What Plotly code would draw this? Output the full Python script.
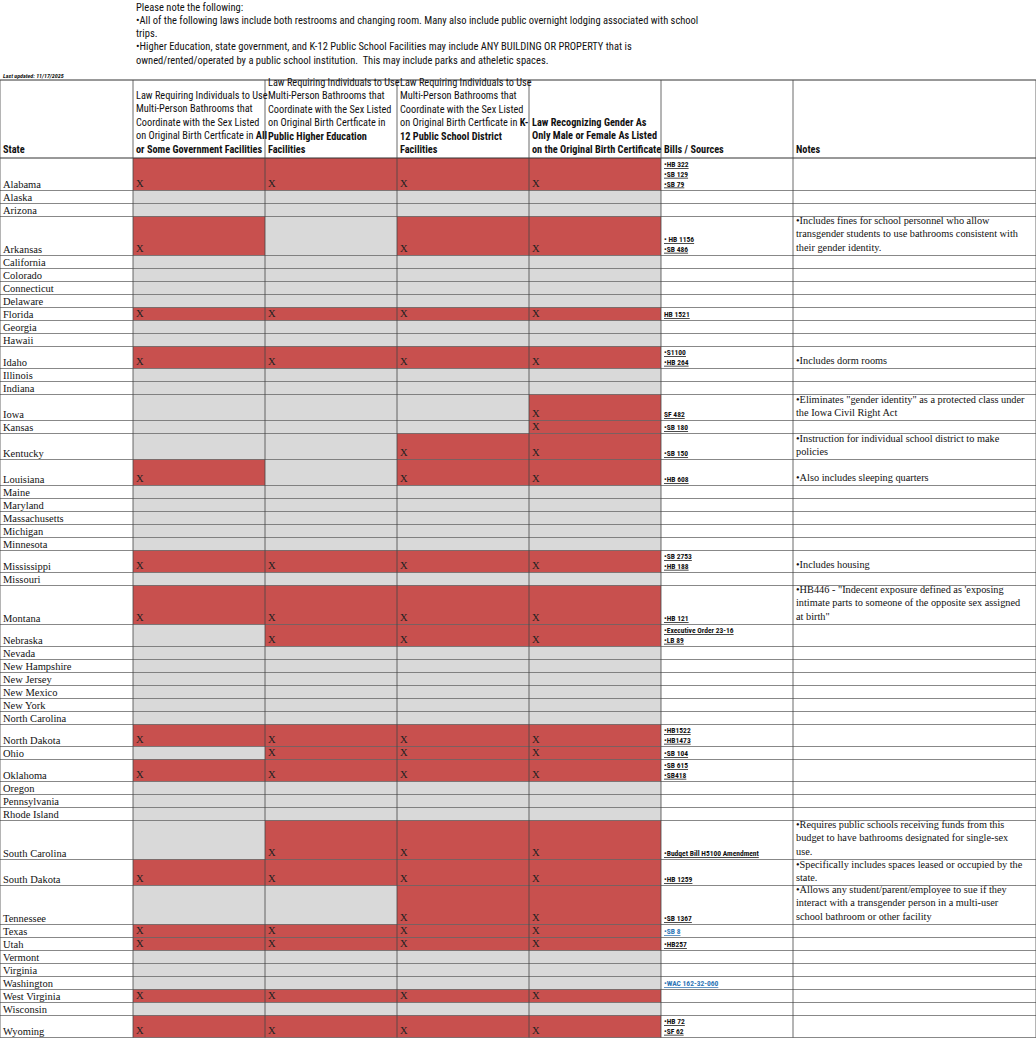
import plotly.graph_objects as go

states = ["Alabama","Alaska","Arizona","Arkansas","California","Colorado","Connecticut","Delaware","Florida","Georgia","Hawaii","Idaho","Illinois","Indiana","Iowa","Kansas","Kentucky","Louisiana","Maine","Maryland","Massachusetts","Michigan","Minnesota","Mississippi","Missouri","Montana","Nebraska","Nevada","New Hampshire","New Jersey","New Mexico","New York","North Carolina","North Dakota","Ohio","Oklahoma","Oregon","Pennsylvania","Rhode Island","South Carolina","South Dakota","Tennessee","Texas","Utah","Vermont","Virginia","Washington","West Virginia","Wisconsin","Wyoming"]
# status per state for the 4 law columns ("X" = law in place)
gov_fac = ["X","","","X","","","","","X","","","X","","","","","","X","","","","","","X","","X","","","","","","","","X","","X","","","","","X","","X","X","","","","X","","X"]
higher_ed = ["X","","","","","","","","X","","","X","","","","","","","","","","","","X","","X","X","","","","","","","X","X","X","","","","X","X","","X","X","","","","X","","X"]
k12 = ["X","","","X","","","","","X","","","X","","","","","X","X","","","","","","X","","X","X","","","","","","","X","X","X","","","","X","X","X","X","X","","","","X","","X"]
gender_def = ["X","","","X","","","","","X","","","X","","","X","X","X","X","","","","","","X","","X","X","","","","","","","X","X","X","","","","X","X","X","X","X","","","","X","","X"]
bills = {
    "Alabama": ["•HB 322","•SB 129","•SB 79"], "Arkansas": ["• HB 1156","•SB 486"], "Florida": ["HB 1521"],
    "Idaho": ["•S1100","•HB 264"], "Iowa": ["SF 482"], "Kansas": ["•SB 180"], "Kentucky": ["•SB 150"],
    "Louisiana": ["•HB 608"], "Mississippi": ["•SB 2753","•HB 188"], "Montana": ["•HB 121"],
    "Nebraska": ["•Executive Order 23-16","•LB 89"], "North Dakota": ["•HB1522","•HB1473"], "Ohio": ["•SB 104"],
    "Oklahoma": ["•SB 615","•SB418"], "South Carolina": ["•Budget Bill H5100 Amendment"], "South Dakota": ["•HB 1259"],
    "Tennessee": ["•SB 1367"], "Texas": ["•SB 8"], "Utah": ["•HB257"], "Washington": ["•WAC 162-32-060"],
    "Wyoming": ["•HB 72","•SF 62"],
}
notes = {
    "Arkansas": ["•Includes fines for school personnel who allow","transgender students to use bathrooms consistent with","their gender identity."],
    "Idaho": ["•Includes dorm rooms"],
    "Iowa": ["•Eliminates \"gender identity\" as a protected class under","the Iowa Civil Right Act"],
    "Kentucky": ["•Instruction for individual school district to make","policies"],
    "Louisiana": ["•Also includes sleeping quarters"],
    "Mississippi": ["•Includes housing"],
    "Montana": ["•HB446 - \"Indecent exposure defined as 'exposing","intimate parts to someone of the opposite sex assigned","at birth\""],
    "South Carolina": ["•Requires public schools receiving funds from this","budget to have bathrooms designated for single-sex","use."],
    "South Dakota": ["•Specifically includes spaces leased or occupied by the","state."],
    "Tennessee": ["•Allows any student/parent/employee to sue if they","interact with a transgender person in a multi-user","school bathroom or other facility"],
}
headers = ["State",
    "Law Requiring Individuals to Use<br>Multi-Person Bathrooms that<br>Coordinate with the Sex Listed<br>on Original Birth Certficate in <b>All</b><br><b>or Some Government Facilities</b>",
    "Law Requiring Individuals to Use<br>Multi-Person Bathrooms that<br>Coordinate with the Sex Listed<br>on Original Birth Certficate in<br><b>Public Higher Education</b><br><b>Facilities</b>",
    "Law Requiring Individuals to Use<br>Multi-Person Bathrooms that<br>Coordinate with the Sex Listed<br>on Original Birth Certficate in <b>K-</b><br><b>12 Public School District</b><br><b>Facilities</b>",
    "<b>Law Recognizing Gender As</b><br><b>Only Male or Female As Listed</b><br><b>on the Original Birth Certificate</b>",
    "<b>Bills / Sources</b>", "<b>Notes</b>"]
tall_rows = {"Louisiana": 2}

RED, GRAY = "#C8504E", "#D9D9D9"
xs = [0, 133, 265, 397, 529, 661, 793, 1036]
W, H = 1036, 1039
NARROW = "Liberation Sans Narrow, Roboto Condensed, Arial Narrow, sans-serif"
SERIF = "Liberation Serif, DejaVu Serif, serif"

shapes, ann = [], []
def line(x0, y0, x1, y1, c="#444", w=0.8):
    shapes.append(dict(type="line", x0=x0, y0=y0, x1=x1, y1=y1, line=dict(color=c, width=w)))

intro = ["Please note the following:",
         "•All of the following laws include both restrooms and changing room. Many also include public overnight lodging associated with school",
         "trips.",
         "•Higher Education, state government, and K-12 Public School Facilities may include ANY BUILDING OR PROPERTY that is",
         "owned/rented/operated by a public school institution.  This may include parks and atheletic spaces."]
for i, t in enumerate(intro):
    ann.append(dict(x=134, y=7 + i * 13.3, text=t, xanchor="left", yanchor="middle", showarrow=False,
                    font=dict(family=NARROW, size=10.5, color="#111")))
ann.append(dict(x=1, y=75, text="<i><b>Last updated: 11/17/2025</b></i>", xanchor="left", yanchor="middle",
                showarrow=False, font=dict(family=NARROW, size=6, color="#111")))

top, hb = 80, 158
for i, h in enumerate(headers):
    ann.append(dict(x=xs[i] + 1, y=hb, text=("<b>State</b>" if i == 0 else h), xanchor="left", yanchor="bottom",
                    align="left", showarrow=False, font=dict(family=NARROW, size=10.3, color="#111")))

y = hb
cols = [gov_fac, higher_ed, k12, gender_def]
for r, s in enumerate(states):
    nb = len(bills.get(s, []))
    nn = max(len(notes.get(s, [])), tall_rows.get(s, 0))
    h = max(13, 10.5 * nb + 1, 13 * nn)
    y0, y1 = y, y + h
    for c in range(4):
        fill = RED if cols[c][r] == "X" else GRAY
        shapes.append(dict(type="rect", x0=xs[c + 1], x1=xs[c + 2], y0=y0, y1=y1, fillcolor=fill,
                           line=dict(width=0), layer="below"))
        if cols[c][r] == "X":
            ann.append(dict(x=xs[c + 1] + 1, y=y1, text="X", xanchor="left", yanchor="bottom", showarrow=False,
                            font=dict(family=SERIF, size=10.5, color="#222")))
    ann.append(dict(x=1, y=y1 + 1, text=s, xanchor="left", yanchor="bottom", showarrow=False,
                    font=dict(family=SERIF, size=10.5, color="#111")))
    if nb:
        col = "#2E75B6" if s in ("Texas", "Washington") else "#111"
        txt = "<br>".join("<u><b>%s</b></u>" % b for b in bills[s])
        ann.append(dict(x=xs[5] + 1, y=y1, text=txt, xanchor="left", yanchor="bottom", align="left", showarrow=False,
                        font=dict(family=NARROW, size=7.5, color=col)))
    if notes.get(s):
        ann.append(dict(x=xs[6] + 1, y=y1 - 1, text="<br>".join(notes[s]), xanchor="left", yanchor="bottom",
                        align="left", showarrow=False, font=dict(family=SERIF, size=10.3, color="#111")))
    line(0, y1, W, y1, "#555", 0.7)
    y = y1

line(0, top, W, top, "#333", 1)
line(0, hb, W, hb, "#333", 1)
for x in xs:
    line(x, top, x, y, "#444", 0.8)

fig = go.Figure()
fig.update_layout(width=W, height=H, margin=dict(l=0, r=0, t=0, b=0), plot_bgcolor="white", paper_bgcolor="white",
                  shapes=shapes, annotations=ann, showlegend=False,
                  xaxis=dict(range=[0, W], visible=False, fixedrange=True),
                  yaxis=dict(range=[H, 0], visible=False, fixedrange=True))
fig.write_html("out.html", config={"displayModeBar": False})
with open("out.html", encoding="utf-8") as f:
    page = f.read()
page = page.replace("<body>", '<body style="margin:0;overflow:hidden">', 1)
with open("out.html", "w", encoding="utf-8") as f:
    f.write(page)
